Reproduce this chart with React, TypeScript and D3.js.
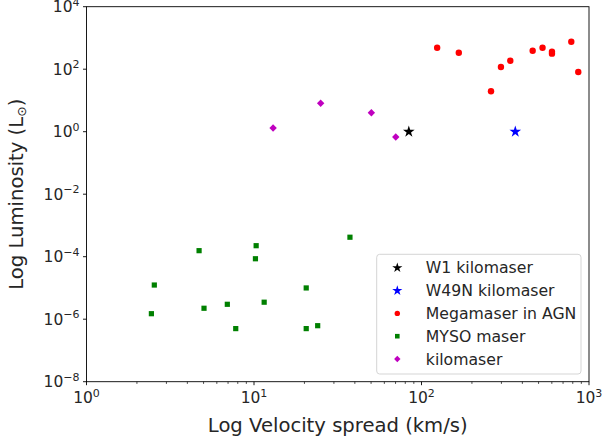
import { useEffect, useRef } from 'react'
import * as d3 from 'd3'

// velocity spread (km/s), luminosity (L_sun)
const w1Kilo = [{ x: 84, y: 1.0 }]
const w49nKilo = [{ x: 363, y: 1.0 }]
const megamaserAgn = [
  { x: 124, y: 488 },
  { x: 167, y: 337 },
  { x: 260, y: 19.6 },
  { x: 298, y: 117 },
  { x: 339, y: 187 },
  { x: 461, y: 391 },
  { x: 528, y: 488 },
  { x: 601, y: 363 },
  { x: 601, y: 315 },
  { x: 784, y: 759 },
  { x: 863, y: 81 },
]
const mysoMaser = [
  { x: 2.54, y: 1.24e-5 },
  { x: 2.44, y: 1.5e-6 },
  { x: 4.7, y: 1.56e-4 },
  { x: 5.03, y: 2.24e-6 },
  { x: 6.93, y: 3.0e-6 },
  { x: 7.78, y: 5.0e-7 },
  { x: 10.3, y: 2.25e-4 },
  { x: 10.2, y: 8.6e-5 },
  { x: 11.5, y: 3.5e-6 },
  { x: 37.4, y: 4.2e-4 },
  { x: 20.5, y: 1.0e-5 },
  { x: 20.5, y: 5.0e-7 },
  { x: 24.0, y: 6.2e-7 },
]
const kilomaser = [
  { x: 13.0, y: 1.31 },
  { x: 25.0, y: 8.1 },
  { x: 50.2, y: 4.05 },
  { x: 70.2, y: 0.676 },
]

const xTickExps = [0, 1, 2, 3]
const yTickExps = [-8, -6, -4, -2, 0, 2, 4]

const W = 603
const H = 442
const margin = { top: 6.7, right: 14, bottom: 60.3, left: 86.5 }
const font = 'DejaVu Sans, sans-serif'

export default function App() {
  const svgRef = useRef<SVGSVGElement>(null)

  useEffect(() => {
    const svg = d3.select(svgRef.current)
    svg.selectAll('*').remove()

    const innerW = W - margin.left - margin.right
    const innerH = H - margin.top - margin.bottom

    const x = d3.scaleLog().domain([1, 1000]).range([0, innerW])
    const y = d3.scaleLog().domain([1e-8, 1e4]).range([innerH, 0])

    const g = svg.append('g').attr('transform', `translate(${margin.left},${margin.top})`)

    // minor x ticks
    const minor: number[] = []
    for (let e = 0; e < 3; e++) {
      for (let m = 2; m <= 9; m++) minor.push(m * Math.pow(10, e))
    }
    g.selectAll('.minor')
      .data(minor)
      .enter().append('line')
      .attr('x1', d => x(d)).attr('x2', d => x(d))
      .attr('y1', innerH).attr('y2', innerH + 2.2)
      .attr('stroke', '#000').attr('stroke-width', 0.7)

    // major x ticks
    const xt = g.selectAll('.xt').data(xTickExps).enter().append('g')
      .attr('transform', d => `translate(${x(Math.pow(10, d))},${innerH})`)
    xt.append('line').attr('y2', 3.5).attr('stroke', '#000').attr('stroke-width', 0.9)
    const xl = xt.append('text')
      .attr('y', 21.5).attr('text-anchor', 'middle')
      .attr('font-family', font).attr('fill', '#262626')
    xl.append('tspan').attr('font-size', 15.5).text('10')
    xl.append('tspan').attr('font-size', 11).attr('dy', -6.5).text(d => `${d}`)

    // major y ticks
    const yt = g.selectAll('.yt').data(yTickExps).enter().append('g')
      .attr('transform', d => `translate(0,${y(Math.pow(10, d))})`)
    yt.append('line').attr('x2', -3.5).attr('stroke', '#000').attr('stroke-width', 0.9)
    const yl = yt.append('text')
      .attr('x', -7).attr('y', 5.5).attr('text-anchor', 'end')
      .attr('font-family', font).attr('fill', '#262626')
    yl.append('tspan').attr('font-size', 15.5).text('10')
    yl.append('tspan').attr('font-size', 11).attr('dy', -6.5)
      .text(d => (d < 0 ? `\u2212${-d}` : `${d}`))

    // frame
    g.append('rect')
      .attr('width', innerW).attr('height', innerH)
      .attr('fill', 'none').attr('stroke', '#000').attr('stroke-width', 0.9)

    const star = d3.symbol().type(d3.symbolStar).size(42)
    const diamondPath = (r: number) => `M0,${-r}L${r},0L0,${r}L${-r},0Z`

    g.selectAll('.myso').data(mysoMaser).enter().append('rect')
      .attr('x', d => x(d.x) - 2.6).attr('y', d => y(d.y) - 2.6)
      .attr('width', 5.2).attr('height', 5.2).attr('fill', 'green')

    g.selectAll('.kilo').data(kilomaser).enter().append('path')
      .attr('d', diamondPath(3.7))
      .attr('transform', d => `translate(${x(d.x)},${y(d.y)})`)
      .attr('fill', '#bf00bf')

    g.selectAll('.agn').data(megamaserAgn).enter().append('circle')
      .attr('cx', d => x(d.x)).attr('cy', d => y(d.y)).attr('r', 3.2)
      .attr('fill', 'red')

    g.selectAll('.w1').data(w1Kilo).enter().append('path')
      .attr('d', star)
      .attr('transform', d => `translate(${x(d.x)},${y(d.y)})`)
      .attr('fill', 'black')

    g.selectAll('.w49').data(w49nKilo).enter().append('path')
      .attr('d', star)
      .attr('transform', d => `translate(${x(d.x)},${y(d.y)})`)
      .attr('fill', 'blue')

    // legend
    const lg = svg.append('g').attr('transform', 'translate(376.7,254.3)')
    lg.append('rect')
      .attr('width', 204.3).attr('height', 119.7).attr('rx', 3)
      .attr('fill', 'white').attr('fill-opacity', 0.8)
      .attr('stroke', '#d0d0d0').attr('stroke-width', 0.9)
    const items = [
      { label: 'W1 kilomaser', kind: 'star', color: 'black' },
      { label: 'W49N kilomaser', kind: 'star', color: 'blue' },
      { label: 'Megamaser in AGN', kind: 'circle', color: 'red' },
      { label: 'MYSO maser', kind: 'square', color: 'green' },
      { label: 'kilomaser', kind: 'diamond', color: '#bf00bf' },
    ]
    const li = lg.selectAll('.li').data(items).enter().append('g')
      .attr('transform', (_d, i) => `translate(20.6,${13.5 + i * 22.8})`)
    li.each(function (d) {
      const el = d3.select(this)
      if (d.kind === 'star') {
        el.append('path').attr('d', d3.symbol().type(d3.symbolStar).size(32)).attr('fill', d.color)
      } else if (d.kind === 'circle') {
        el.append('circle').attr('r', 2.7).attr('fill', d.color)
      } else if (d.kind === 'square') {
        el.append('rect').attr('x', -2.3).attr('y', -2.3).attr('width', 4.6).attr('height', 4.6).attr('fill', d.color)
      } else {
        el.append('path').attr('d', diamondPath(3.2)).attr('fill', d.color)
      }
    })
    li.append('text')
      .attr('x', 28.5).attr('y', 5.5)
      .attr('font-family', font).attr('font-size', 15.7).attr('fill', '#262626')
      .text(d => d.label)

    // axis labels
    svg.append('text')
      .attr('x', margin.left + innerW / 2).attr('y', 432)
      .attr('text-anchor', 'middle')
      .attr('font-family', font).attr('font-size', 19.6).attr('fill', '#262626')
      .text('Log Velocity spread (km/s)')

    const yLab = svg.append('text')
      .attr('transform', `translate(23,${margin.top + innerH / 2}) rotate(-90)`)
      .attr('text-anchor', 'middle')
      .attr('font-family', font).attr('font-size', 19.6).attr('fill', '#262626')
    yLab.append('tspan').text('Log Luminosity (L')
    yLab.append('tspan').attr('font-size', 12.5).attr('dy', 3).text('\u2299')
    yLab.append('tspan').attr('dy', -3).text(')')
  }, [])

  return (
    <div style={{ width: W, height: H }}>
      <svg ref={svgRef} width={W} height={H} style={{ position: 'absolute', left: 0, top: 0 }} />
    </div>
  )
}
